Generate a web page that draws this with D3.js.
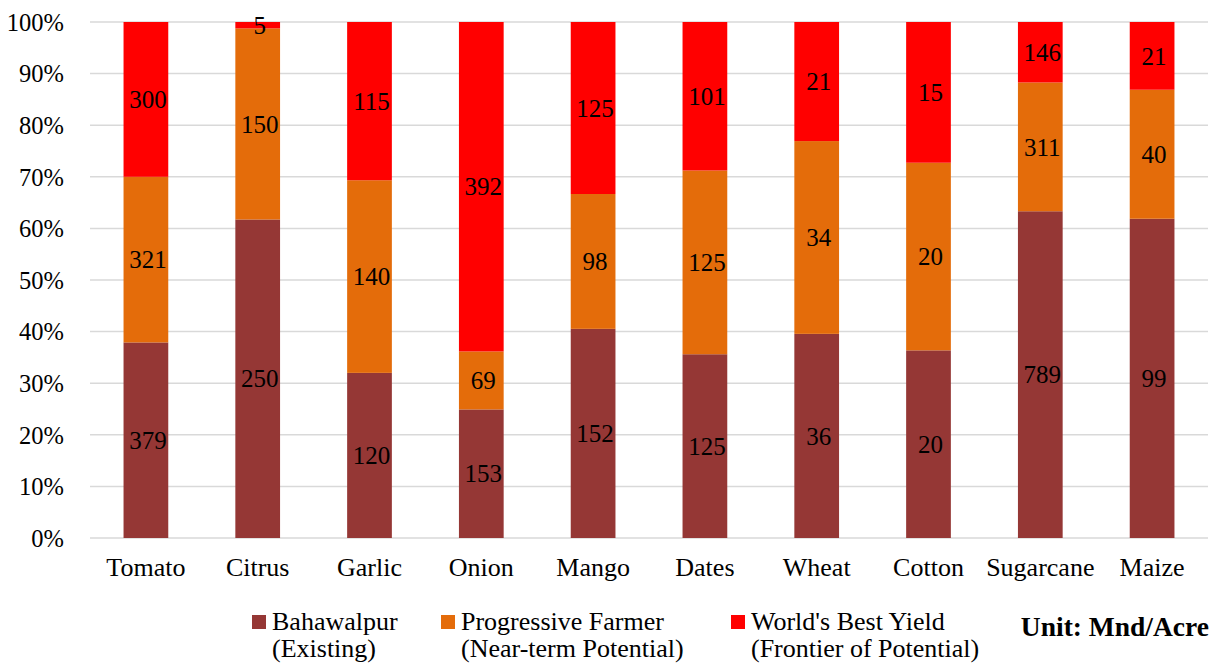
<!DOCTYPE html>
<html>
<head>
<meta charset="utf-8">
<script src="https://cdn.jsdelivr.net/npm/d3@7"></script>
<style>
  html, body { margin: 0; padding: 0; background: #fff; }
  svg { display: block; }
  text { font-family: "Liberation Serif", "Times New Roman", Tinos, serif; fill: #000; }
</style>
</head>
<body>
<svg id="chart" width="1215" height="665"></svg>
<script>
// Crop yields in Mnd/Acre
const crops = ["Tomato", "Citrus", "Garlic", "Onion", "Mango", "Dates", "Wheat", "Cotton", "Sugarcane", "Maize"];
const existing = [379, 250, 120, 153, 152, 125, 36, 20, 789, 99];
const nearTerm = [321, 150, 140, 69, 98, 125, 34, 20, 311, 40];
const frontier = [300, 5, 115, 392, 125, 101, 21, 15, 146, 21];
const seriesNames = [
  ["Bahawalpur", "(Existing)"],
  ["Progressive Farmer", "(Near-term Potential)"],
  ["World's Best Yield", "(Frontier of Potential)"]
];
const seriesColors = ["#953735", "#E46C0A", "#FF0000"];
const yTicks = [0, 0.1, 0.2, 0.3, 0.4, 0.5, 0.6, 0.7, 0.8, 0.9, 1.0];
const unitLabel = "Unit: Mnd/Acre";

const svg = d3.select("#chart");
const plot = { left: 90, right: 1208, top: 22, bottom: 538 };

const x = d3.scaleBand().domain(crops)
  .range([plot.left, plot.right])
  .paddingInner(0.6).paddingOuter(0.3);
const y = d3.scaleLinear().domain([0, 1]).range([plot.bottom, plot.top]);

// Gridlines
svg.append("g").selectAll("line").data(yTicks).join("line")
  .attr("x1", plot.left).attr("x2", plot.right)
  .attr("y1", d => y(d)).attr("y2", d => y(d))
  .attr("stroke", "#D9D9D9").attr("stroke-width", 1.5);

// Y axis labels
const yAxis = d3.axisLeft(y).tickValues(yTicks).tickFormat(d3.format(".0%")).tickSize(0).tickPadding(26);
const gy = svg.append("g").attr("transform", `translate(${plot.left},0)`).call(yAxis);
gy.attr("font-family", null);
gy.select(".domain").remove();
gy.selectAll("text").attr("font-size", 24.5).attr("fill", "#000").attr("dy", "0.34em");

// Stack data as shares of each crop's total
const rows = crops.map((c, i) => {
  const vals = [existing[i], nearTerm[i], frontier[i]];
  const total = d3.sum(vals);
  return { crop: c, s0: vals[0] / total, s1: vals[1] / total, s2: vals[2] / total, v0: vals[0], v1: vals[1], v2: vals[2] };
});
const stacked = d3.stack().keys(["s0", "s1", "s2"])(rows);

stacked.forEach((layer, k) => {
  const g = svg.append("g");
  g.selectAll("rect").data(layer).join("rect")
    .attr("x", d => x(d.data.crop))
    .attr("width", x.bandwidth())
    .attr("y", d => y(d[1]))
    .attr("height", d => y(d[0]) - y(d[1]))
    .attr("fill", seriesColors[k]);
  g.selectAll("text").data(layer).join("text")
    .attr("x", d => x(d.data.crop) + x.bandwidth() / 2 + 2)
    .attr("y", d => (y(d[0]) + y(d[1])) / 2)
    .attr("dy", "0.35em")
    .attr("text-anchor", "middle")
    .attr("font-size", 25)
    .text(d => d.data["v" + k]);
});

// Category labels
const xAxis = d3.axisBottom(x).tickSize(0).tickPadding(20);
const gx = svg.append("g").attr("transform", `translate(0,${plot.bottom})`).call(xAxis);
gx.attr("font-family", null);
gx.select(".domain").remove();
gx.selectAll("text").attr("font-size", 26).attr("fill", "#000");

// Legend (two-line entries)
const legendX = [252, 441, 731];
seriesNames.forEach((lines, k) => {
  const g = svg.append("g").attr("transform", `translate(${legendX[k]},0)`);
  g.append("rect").attr("x", 0).attr("y", 615).attr("width", 14).attr("height", 14).attr("fill", seriesColors[k]);
  g.append("text").attr("x", 20).attr("y", 630).attr("font-size", 26).text(lines[0]);
  g.append("text").attr("x", 20).attr("y", 657).attr("font-size", 26).text(lines[1]);
});

svg.append("text").attr("x", 1209).attr("y", 636).attr("text-anchor", "end")
  .attr("font-size", 27.5).attr("font-weight", "bold").text(unitLabel);
</script>
</body>
</html>
